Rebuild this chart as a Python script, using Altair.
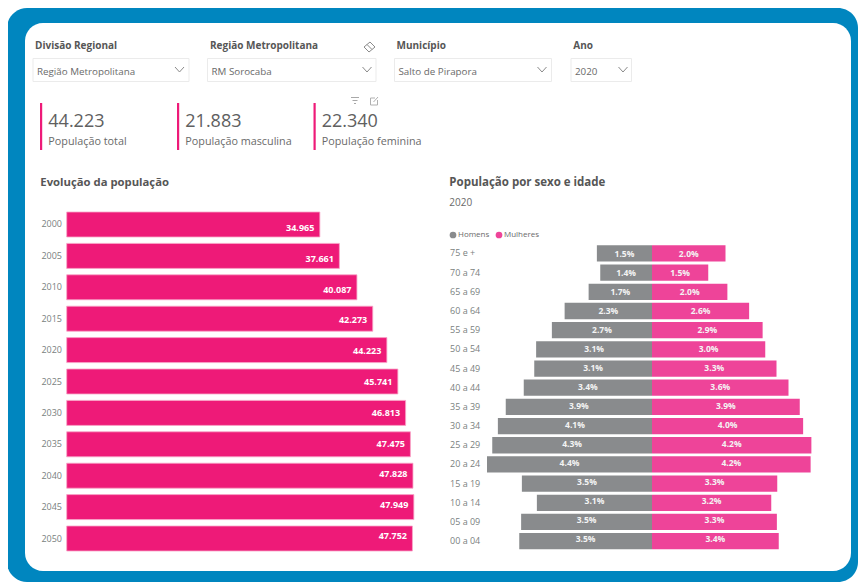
import altair as alt
import pandas as pd

FONT = "Open Sans"
OFF = 8  # page margin

# ---- values ----
years = ["2000", "2005", "2010", "2015", "2020", "2025", "2030", "2035", "2040", "2045", "2050"]
population = [34965, 37661, 40087, 42273, 44223, 45741, 46813, 47475, 47828, 47949, 47752]

ages = ["75 e +", "70 a 74", "65 a 69", "60 a 64", "55 a 59", "50 a 54", "45 a 49", "40 a 44",
        "35 a 39", "30 a 34", "25 a 29", "20 a 24", "15 a 19", "10 a 14", "05 a 09", "00 a 04"]
men = [1.47, 1.38, 1.69, 2.33, 2.67, 3.09, 3.14, 3.42, 3.90, 4.11, 4.26, 4.40, 3.47, 3.07, 3.49, 3.54]
women = [1.96, 1.50, 2.01, 2.59, 2.95, 3.02, 3.32, 3.64, 3.94, 4.03, 4.25, 4.23, 3.34, 3.18, 3.33, 3.38]
men_labels = ["1.5%", "1.4%", "1.7%", "2.3%", "2.7%", "3.1%", "3.1%", "3.4%", "3.9%", "4.1%", "4.3%", "4.4%", "3.5%", "3.1%", "3.5%", "3.5%"]
women_labels = ["2.0%", "1.5%", "2.0%", "2.6%", "2.9%", "3.0%", "3.3%", "3.6%", "3.9%", "4.0%", "4.2%", "4.2%", "3.3%", "3.2%", "3.3%", "3.4%"]

kpi_values = ["44.223", "21.883", "22.340"]
kpi_names = ["População total", "População masculina", "População feminina"]
slicer_titles = ["Divisão Regional", "Região Metropolitana", "Município", "Ano"]
slicer_values = ["Região Metropolitana", "RM Sorocaba", "Salto de Pirapora", "2020"]

BLUE = "#0086BF"
PINK = "#EE1A78"
FEMALE = "#EE4499"
GREY = "#898B8D"
DARK = "#565656"
MID = "#6A6A6A"

one = pd.DataFrame({"k": [0]})


def box(x1, y1, x2, y2, **kw):
    return alt.Chart(one).mark_rect(**kw).encode(
        x=alt.value(x1 - OFF), x2=alt.value(x2 - OFF),
        y=alt.value(y1 - OFF), y2=alt.value(y2 - OFF))


def seg(x1, y1, x2, y2, color="#8A8A8A", w=1):
    return alt.Chart(one).mark_rule(color=color, strokeWidth=w).encode(
        x=alt.value(x1 - OFF), x2=alt.value(x2 - OFF),
        y=alt.value(y1 - OFF), y2=alt.value(y2 - OFF))


def txt(s, x, y, size, color=DARK, weight="normal", baseline="middle"):
    return alt.Chart(one).mark_text(text=s, font=FONT, fontSize=size, fontWeight=weight,
                                    color=color, align="left", baseline=baseline).encode(
        x=alt.value(x - OFF), y=alt.value(y - OFF))


def chevron(x1, x2, y=67):
    xm = (x1 + x2) / 2
    return [seg(x1, y, xm, y + 5), seg(xm, y + 5, x2, y)]


layers = [
    box(7, 8, 858, 582, color=BLUE, cornerRadius=20),
    box(25, 23, 851, 571, color="white", cornerRadius=18),
]

# slicers
for title, value, tx, bx1, bx2, chev in zip(
        slicer_titles, slicer_values, [35, 210, 396.5, 573.3],
        [33, 207.5, 394.5, 571], [189, 376, 551.5, 631.5],
        [(175, 184), (362.5, 371.5), (537.5, 546.5), (618.5, 627.5)]):
    layers.append(txt(title, tx, 45.5, 10, weight="bold"))
    layers.append(box(bx1, 58.5, bx2, 81.5, fill="white", stroke="#EBEBEB", strokeWidth=1))
    layers.append(txt(value, bx1 + 4, 72, 9.8, color=MID))
    layers += chevron(*chev)

# eraser icon
layers += [seg(364, 47, 370, 42), seg(370, 42, 375, 47), seg(375, 47, 369, 52),
           seg(369, 52, 364, 47), seg(367, 44.5, 372, 49.5)]
# visual header icons
layers += [seg(351, 97.5, 359, 97.5, "#A8A8A8"), seg(352.5, 100.5, 357.5, 100.5, "#A8A8A8"),
           seg(354, 103.5, 356, 103.5, "#A8A8A8")]
layers += [seg(370.5, 98, 375, 98, "#B0B0B0"), seg(370.5, 98, 370.5, 105, "#B0B0B0"),
           seg(370.5, 105, 377.5, 105, "#B0B0B0"), seg(377.5, 100, 377.5, 105, "#B0B0B0"),
           seg(373.5, 102, 378, 97, "#B0B0B0")]

# KPI cards
for value, name, bx, tx in zip(kpi_values, kpi_names, [40, 177, 313.5], [48.3, 185.3, 321.7]):
    layers.append(box(bx, 103, bx + 2.2, 150, color=PINK))
    layers.append(txt(value, tx, 126.7, 18, color="#606060", baseline="alphabetic"))
    layers.append(txt(name, tx, 142, 10.8, color=MID))

# titles
layers.append(txt("Evolução da população", 40.3, 183, 11.3, weight="bold"))
layers.append(txt("População por sexo e idade", 449.3, 182.7, 11.5, weight="bold"))
layers.append(txt("2020", 449.3, 203.3, 10, color=MID))

# evolution bars
evo = pd.DataFrame({"ano": years, "pop": population})
evo["rotulo"] = [f"{v:,}".replace(",", ".") for v in population]
evo_x = alt.X("pop:Q", axis=None, scale=alt.Scale(domain=[0, 50000], range=[66.7 - OFF, 428.7 - OFF]))
evo_scale = alt.Scale(domain=years, range=[212 - OFF, 551 - OFF], paddingInner=0.204, paddingOuter=0)
evo_bars = alt.Chart(evo).mark_bar(color=PINK, stroke="#F7A6C8", strokeWidth=0.8).encode(
    x=evo_x,
    y=alt.Y("ano:N", sort=years, title=None, scale=evo_scale,
            axis=alt.Axis(orient="left", zindex=1, offset=-(61.5 - OFF), domain=False, ticks=False, labelPadding=0,
                          labelFont=FONT, labelFontSize=9, labelColor="#7A7F80", grid=False)))
evo_text = alt.Chart(evo).mark_text(font=FONT, fontSize=9, fontWeight="bold", color="white",
                                    align="right", dx=-5.5, dy=0.5).encode(
    x=evo_x, y=alt.Y("ano:N", sort=years, axis=None, scale=evo_scale), text="rotulo:N")
layers += [evo_bars, evo_text]

# pyramid
pyr = pd.DataFrame({
    "idade": ages * 2,
    "sexo": ["Homens"] * len(ages) + ["Mulheres"] * len(ages),
    "valor": [-v for v in men] + women,
    "rotulo": men_labels + women_labels,
})
pyr_scale = alt.Scale(domain=[-5, 5], range=[652 - 187.5 - OFF, 652 + 187.5 - OFF])
age_scale = alt.Scale(domain=ages, range=[245.3 - OFF, 549.3 - OFF], paddingInner=0.15, paddingOuter=0)
pyr_bars = alt.Chart(pyr).mark_bar().encode(
    x=alt.X("valor:Q", axis=None, scale=pyr_scale),
    y=alt.Y("idade:N", sort=ages, title=None, scale=age_scale,
            axis=alt.Axis(orient="left", zindex=1, offset=-(449.5 - OFF), domain=False, ticks=False, labelPadding=0,
                          labelFont=FONT, labelAlign="left", labelFontSize=9, labelColor="#7A7F80", grid=False)),
    color=alt.Color("sexo:N", title=None,
                    scale=alt.Scale(domain=["Homens", "Mulheres"], range=[GREY, FEMALE]),
                    legend=alt.Legend(orient="none", legendX=449 - OFF, legendY=231 - OFF, direction="horizontal",
                                      symbolType="circle", symbolSize=45, symbolStrokeWidth=0, labelFont=FONT,
                                      labelFontSize=8, labelColor=MID, labelOffset=1, columnPadding=5,
                                      symbolOffset=0, padding=0)),
)
pyr_text = alt.Chart(pyr).transform_calculate(meio="datum.valor / 2").mark_text(
    font=FONT, fontSize=8.5, fontWeight="bold", color="#F4F4F4", dy=-0.5).encode(
    x=alt.X("meio:Q", axis=None, scale=pyr_scale),
    y=alt.Y("idade:N", sort=ages, axis=None, scale=age_scale), text="rotulo:N")
layers += [pyr_bars, pyr_text]

chart = alt.layer(*layers).resolve_scale(x="independent", y="independent").properties(
    width=850, height=574, padding=0, autosize=alt.AutoSizeParams(type="none"), background="white"
).configure_view(stroke=None)

chart.save("out.html", embed_options={"renderer": "svg", "actions": False})
